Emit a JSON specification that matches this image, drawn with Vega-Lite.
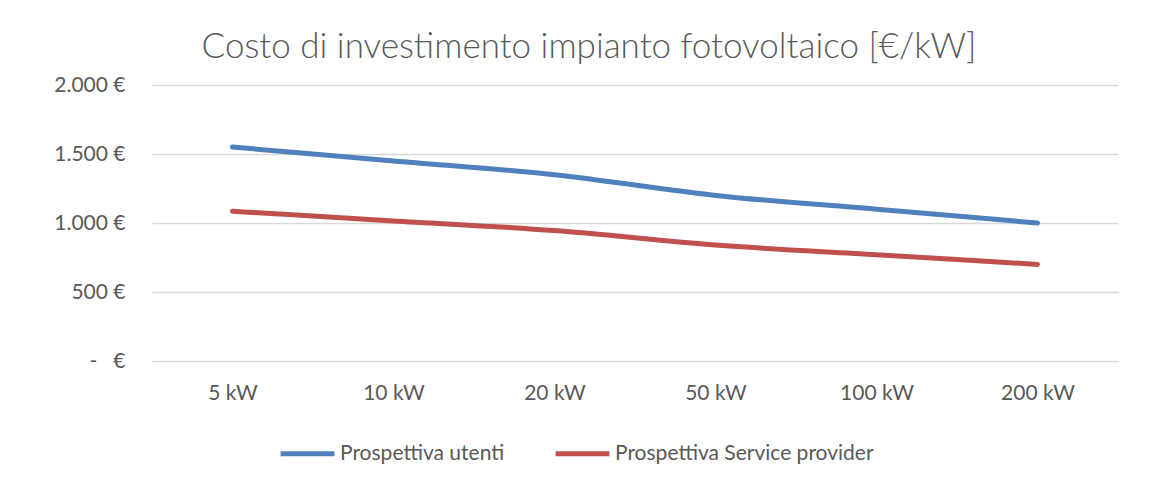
{
  "$schema": "https://vega.github.io/schema/vega-lite/v6.json",
  "autosize": {"type": "none"},
  "width": 966,
  "height": 276,
  "padding": {"left": 152, "top": 85, "right": 31, "bottom": 118},
  "background": "white",
  "title": {
    "text": "Costo di investimento impianto fotovoltaico [€/kW]",
    "anchor": "middle",
    "frame": "group",
    "dx": -46,
    "offset": 9,
    "font": "Lato",
    "fontSize": 35,
    "fontWeight": 300,
    "color": "#595959"
  },
  "data": {
    "values": [
      {"taglia": "5 kW", "serie": "Prospettiva utenti", "costo": 1550},
      {"taglia": "10 kW", "serie": "Prospettiva utenti", "costo": 1450},
      {"taglia": "20 kW", "serie": "Prospettiva utenti", "costo": 1350},
      {"taglia": "50 kW", "serie": "Prospettiva utenti", "costo": 1200},
      {"taglia": "100 kW", "serie": "Prospettiva utenti", "costo": 1100},
      {"taglia": "200 kW", "serie": "Prospettiva utenti", "costo": 1000},
      {"taglia": "5 kW", "serie": "Prospettiva Service provider", "costo": 1085},
      {"taglia": "10 kW", "serie": "Prospettiva Service provider", "costo": 1015},
      {"taglia": "20 kW", "serie": "Prospettiva Service provider", "costo": 945},
      {"taglia": "50 kW", "serie": "Prospettiva Service provider", "costo": 840},
      {"taglia": "100 kW", "serie": "Prospettiva Service provider", "costo": 770},
      {"taglia": "200 kW", "serie": "Prospettiva Service provider", "costo": 700}
    ]
  },
  "mark": {"type": "line", "strokeWidth": 5, "interpolate": "monotone", "strokeCap": "round"},
  "encoding": {
    "x": {
      "field": "taglia",
      "type": "ordinal",
      "sort": ["5 kW", "10 kW", "20 kW", "50 kW", "100 kW", "200 kW"],
      "scale": {"type": "point", "padding": 0.5},
      "axis": {
        "title": null,
        "labelAngle": 0,
        "domain": false,
        "ticks": false,
        "grid": false,
        "labelPadding": 21,
        "labelFont": "Lato",
        "labelFontSize": 21,
        "labelColor": "#595959"
      }
    },
    "y": {
      "field": "costo",
      "type": "quantitative",
      "scale": {"domain": [0, 2000], "nice": false},
      "axis": {
        "title": null,
        "values": [0, 500, 1000, 1500, 2000],
        "labelExpr": "datum.value == 0 ? '-\u00a0\u00a0\u00a0€' : replace(format(datum.value, ','), ',', '.') + ' €'",
        "domain": false,
        "ticks": false,
        "grid": true,
        "gridColor": "#d9d9d9",
        "gridWidth": 1.5,
        "labelPadding": 27,
        "labelFont": "Lato",
        "labelFontSize": 21,
        "labelColor": "#595959"
      }
    },
    "color": {
      "field": "serie",
      "type": "nominal",
      "sort": ["Prospettiva utenti", "Prospettiva Service provider"],
      "scale": {"domain": ["Prospettiva utenti", "Prospettiva Service provider"], "range": ["#4F81BD", "#C0504D"]},
      "legend": {
        "title": null,
        "orient": "none",
        "direction": "horizontal",
        "legendX": 126,
        "legendY": 339,
        "symbolType": "stroke",
        "symbolStrokeWidth": 5,
        "symbolSize": 2900,
        "labelFont": "Lato",
        "labelFontSize": 21,
        "labelColor": "#595959",
        "labelLimit": 400,
        "labelOffset": 3,
        "columnPadding": 40
      }
    }
  },
  "config": {"view": {"stroke": null}}
}
